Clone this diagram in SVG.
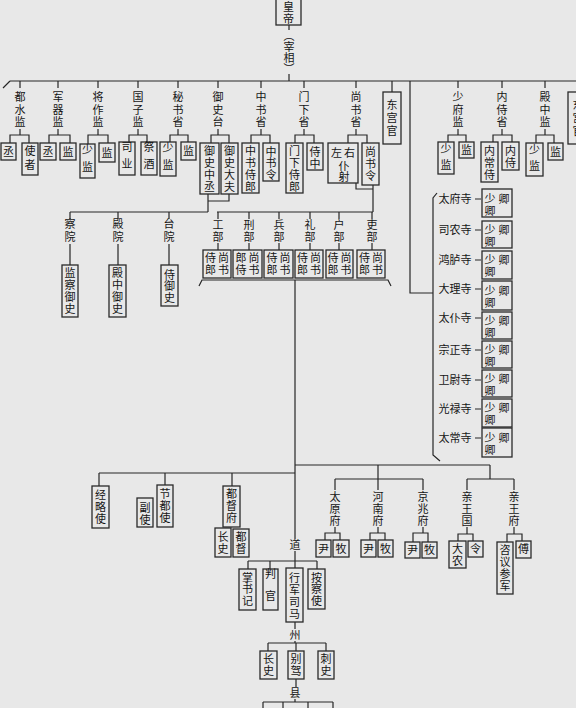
<svg xmlns="http://www.w3.org/2000/svg" width="576" height="708" viewBox="0 0 576 708">
<style>
.c path{fill:none;stroke:#262626;stroke-width:1.2}
.b{fill:none;stroke:#2a2a2a;stroke-width:1.3}
.t{font-family:"Noto Sans CJK SC","Noto Sans CJK JP",sans-serif;font-size:11px;fill:#151515;text-anchor:middle}
.v{writing-mode:vertical-rl;text-orientation:upright}
.s0{letter-spacing:0}
.s05{letter-spacing:0.5px}
.s1{letter-spacing:1px}
.s15{letter-spacing:1.5px}
.s2{letter-spacing:2px}
.s3{letter-spacing:3px}
.s5{letter-spacing:5px}
.s6{letter-spacing:6px}
.s11{letter-spacing:11px}
</style>
<rect x="0" y="0" width="576" height="708" fill="#e8e8e8"/>
<g id="connectors" class="c">
<path d="M289 25V30M289 74V81M10 81H576M10 81L3 88"/>
<path d="M20 81V88M58 81V88M98 81V88M138 81V88M178 81V88M218 81V88M261 81V88M304 81V88M356 81V88M392 81V92M458 81V88M502 81V88M545 81V88"/>
<path d="M410 81V293H433"/>
<path d="M20 129V135M10 143V135H29V143M58 129V135M49 143V135H70V143M98 129V135M88 144V135H108V143M138 129V135M129 142V135H147V142M178 129V135M170 142V135H188V142M218 129V135M211 143V135H229V143M261 129V135M251 143V135H270V143M304 129V135M295 143V135H314V143M356 129V135M348 143V135H367V143M458 129V135M448 142V135H466V142M502 129V135M493 142V135H512V142M545 129V135M536 143V135H554V143"/>
<path d="M208 194V212M229 194V201H208M70 212H208M70 212V219M118 212V219M169 212V219M70 244V265M118 244V265M169 244V265"/>
<path d="M356 183V189H373M373 185V212M217 212H373M218 212V219M249 212V219M279 212V219M310 212V219M339 212V219M372 212V219M218 243V250M249 243V250M279 243V250M310 243V250M339 243V250M372 243V250"/>
<path d="M199 286L202 280H388L391 286M295 280V539"/>
<path d="M437 193L433 198V455L440 461M475 199H481M475 230H481M475 260H481M475 289H481M475 318H481M475 350H481M475 380H481M475 409H481M475 438H481"/>
<path d="M99 473H295M295 465H490M99 473V486M165 473V485M232 473V486"/>
<path d="M378 465V479M335 479H423M335 479V490M378 479V490M423 479V490M335 527V533M325 540V533H340V540M378 527V533M370 540V533H385V540M423 527V533M413 542V533H428V542"/>
<path d="M490 465V479M467 479H514M467 479V490M514 479V490M467 527V534M458 541V534H473V541M514 527V534M507 542V534H522V541"/>
<path d="M295 551V561M248 561H317M248 561V569M270 561V569M295 561V568M317 561V569M295 622V629M295 641V643M268 643H326M268 643V651M296 643V651M326 643V651M296 679V687M295 699V702M263 702H333M263 702V708M283 702V708M308 702V708M333 702V708"/>
</g>
<g id="n-huangdi"><rect class="b" x="276" y="-2" width="25" height="27"/><text class="t v s1" x="288.5" y="13">皇帝</text></g>
<g id="n-zaixiang"><text class="t v s0" x="289" y="52">（宰相）</text></g>
<g id="n-dushuijian"><text class="t v s15" x="20" y="110.5">都水监</text></g>
<g id="n-dsj-cheng"><rect class="b" x="1" y="143" width="15" height="17"/><text class="t" x="8.5" y="156">丞</text></g>
<g id="n-dsj-shizhe"><rect class="b" x="22" y="143" width="16" height="32"/><text class="t v s3" x="30" y="159">使者</text></g>
<g id="n-junqijian"><text class="t v s15" x="58" y="110.5">军器监</text></g>
<g id="n-jqj-cheng"><rect class="b" x="40" y="143" width="16" height="17"/><text class="t" x="48" y="156">丞</text></g>
<g id="n-jqj-jian"><rect class="b" x="60" y="143" width="16" height="17"/><text class="t" x="68" y="156">监</text></g>
<g id="n-jiangzuojian"><text class="t v s15" x="98" y="110.5">将作监</text></g>
<g id="n-jzj-shaojian"><rect class="b" x="80" y="144" width="15" height="34"/><text class="t v s6" x="87.5" y="161.5">少监</text></g>
<g id="n-jzj-jian"><rect class="b" x="99" y="143" width="16" height="19"/><text class="t" x="107" y="157">监</text></g>
<g id="n-guozijian"><text class="t v s15" x="138" y="110.5">国子监</text></g>
<g id="n-gzj-siye"><rect class="b" x="119" y="142" width="16" height="33"/><text class="t v s6" x="127" y="158.5">司业</text></g>
<g id="n-gzj-jijiu"><rect class="b" x="141" y="142" width="16" height="33"/><text class="t v s6" x="149" y="158.5">祭酒</text></g>
<g id="n-mishusheng"><text class="t v s15" x="178" y="110.5">秘书省</text></g>
<g id="n-msj-shaojian"><rect class="b" x="160" y="142" width="16" height="34"/><text class="t v s6" x="168" y="159.5">少监</text></g>
<g id="n-msj-jian"><rect class="b" x="181" y="142" width="15" height="18"/><text class="t" x="188.5" y="155">监</text></g>
<g id="n-yushitai"><text class="t v s15" x="218" y="110.5">御史台</text></g>
<g id="n-yst-zhongcheng"><rect class="b" x="200" y="143" width="19" height="51"/><text class="t v s1" x="209.5" y="169.5">御史中丞</text></g>
<g id="n-yst-dafu"><rect class="b" x="221" y="143" width="17" height="51"/><text class="t v s1" x="229.5" y="169.5">御史大夫</text></g>
<g id="n-zhongshusheng"><text class="t v s15" x="261" y="110.5">中书省</text></g>
<g id="n-zss-shilang"><rect class="b" x="242" y="143" width="17" height="50"/><text class="t v s1" x="250.5" y="169.5">中书侍郎</text></g>
<g id="n-zss-ling"><rect class="b" x="263" y="143" width="16" height="38"/><text class="t v s05" x="271" y="163.5">中书令</text></g>
<g id="n-menxiasheng"><text class="t v s15" x="304" y="110.5">门下省</text></g>
<g id="n-mxs-shilang"><rect class="b" x="286" y="143" width="17" height="50"/><text class="t v s1" x="294.5" y="169.5">门下侍郎</text></g>
<g id="n-mxs-shizhong"><rect class="b" x="307" y="143" width="16" height="27"/><text class="t v s1" x="315" y="158">侍中</text></g>
<g id="n-shangshusheng"><text class="t v s15" x="356" y="110.5">尚书省</text></g>
<g id="n-sss-pushe"><rect class="b" x="328" y="143" width="30" height="40"/><text class="t s2" x="344" y="157">左右</text><text class="t v s0" x="344" y="171">仆射</text></g>
<g id="n-sss-ling"><rect class="b" x="362" y="143" width="17" height="42"/><text class="t v s1" x="370.5" y="164">尚书令</text></g>
<g id="n-donggongguan"><rect class="b" x="383" y="92" width="18" height="52"/><text class="t v s2" x="392" y="119">东宫官</text></g>
<g id="n-shaofujian"><text class="t v s15" x="458" y="110.5">少府监</text></g>
<g id="n-sfj-shaojian"><rect class="b" x="438" y="142" width="16" height="32"/><text class="t v s5" x="446" y="159">少监</text></g>
<g id="n-sfj-jian"><rect class="b" x="459" y="142" width="15" height="16"/><text class="t" x="466.5" y="154">监</text></g>
<g id="n-neishisheng"><text class="t v s15" x="502" y="110.5">内侍省</text></g>
<g id="n-nss-changshi"><rect class="b" x="481" y="142" width="17" height="40"/><text class="t v s1" x="489.5" y="163">内常侍</text></g>
<g id="n-nss-neishi"><rect class="b" x="502" y="142" width="17" height="28"/><text class="t v s1" x="510.5" y="157">内侍</text></g>
<g id="n-dianzhongjian"><text class="t v s15" x="545" y="110.5">殿中监</text></g>
<g id="n-dzj-shaojian"><rect class="b" x="526" y="143" width="17" height="33"/><text class="t v s5" x="534.5" y="160">少监</text></g>
<g id="n-dzj-jian"><rect class="b" x="548" y="143" width="15" height="17"/><text class="t" x="555.5" y="156">监</text></g>
<g id="n-donggongguan2"><rect class="b" x="568" y="92" width="22" height="52"/><text class="t v s2" x="578" y="119">东宫官</text></g>
<g id="n-chayuan"><text class="t v s2" x="70" y="231.5">察院</text></g>
<g id="n-jianchayushi"><rect class="b" x="62" y="265" width="16" height="52"/><text class="t v s1" x="70" y="291">监察御史</text></g>
<g id="n-dianyuan"><text class="t v s2" x="118" y="231.5">殿院</text></g>
<g id="n-dianzhongyushi"><rect class="b" x="109" y="265" width="17" height="52"/><text class="t v s1" x="117.5" y="291">殿中御史</text></g>
<g id="n-taiyuan"><text class="t v s2" x="169" y="231.5">台院</text></g>
<g id="n-shiyushi"><rect class="b" x="161" y="265" width="17" height="41"/><text class="t v s05" x="169.5" y="286.5">侍御史</text></g>
<g id="n-gongbu"><text class="t v s1" x="218" y="231">工部</text><rect class="b" x="203" y="250" width="28" height="28"/><text class="t v s1" x="210.5" y="264">侍郎</text><text class="t v s1" x="223.5" y="264">尚书</text></g>
<g id="n-xingbu"><text class="t v s1" x="249" y="231">刑部</text><rect class="b" x="233" y="250" width="29" height="28"/><text class="t v s1" x="241" y="264">郎侍</text><text class="t v s1" x="254" y="264">尚书</text></g>
<g id="n-bingbu"><text class="t v s1" x="279" y="231">兵部</text><rect class="b" x="264" y="250" width="29" height="28"/><text class="t v s1" x="272" y="264">侍郎</text><text class="t v s1" x="285" y="264">尚书</text></g>
<g id="n-libu"><text class="t v s1" x="310" y="231">礼部</text><rect class="b" x="295" y="250" width="28" height="28"/><text class="t v s1" x="302.5" y="264">侍郎</text><text class="t v s1" x="315.5" y="264">尚书</text></g>
<g id="n-hubu"><text class="t v s1" x="339" y="231">户部</text><rect class="b" x="326" y="250" width="27" height="28"/><text class="t v s1" x="333" y="264">侍郎</text><text class="t v s1" x="346" y="264">尚书</text></g>
<g id="n-libu2"><text class="t v s1" x="372" y="231">吏部</text><rect class="b" x="357" y="250" width="28" height="28"/><text class="t v s1" x="364.5" y="264">侍郎</text><text class="t v s1" x="377.5" y="264">尚书</text></g>
<g id="n-taifusi"><text class="t" x="455" y="203">太府寺</text><rect class="b" x="482" y="189" width="30" height="28"/><text class="t v s1" x="490" y="205">少卿</text><text class="t" x="504" y="203">卿</text></g>
<g id="n-sinongsi"><text class="t" x="455" y="234">司农寺</text><rect class="b" x="482" y="221" width="30" height="27"/><text class="t v s1" x="490" y="236">少卿</text><text class="t" x="504" y="234">卿</text></g>
<g id="n-honglusi"><text class="t" x="455" y="264">鸿胪寺</text><rect class="b" x="482" y="251" width="30" height="28"/><text class="t v s1" x="490" y="266">少卿</text><text class="t" x="504" y="264">卿</text></g>
<g id="n-dalisi"><text class="t" x="455" y="293">大理寺</text><rect class="b" x="482" y="281" width="30" height="29"/><text class="t v s1" x="490" y="297">少卿</text><text class="t" x="504" y="295">卿</text></g>
<g id="n-taipusi"><text class="t" x="455" y="322">太仆寺</text><rect class="b" x="482" y="312" width="30" height="27"/><text class="t v s1" x="490" y="327">少卿</text><text class="t" x="504" y="325">卿</text></g>
<g id="n-zongzhengsi"><text class="t" x="455" y="354">宗正寺</text><rect class="b" x="482" y="341" width="30" height="27"/><text class="t v s1" x="490" y="356">少卿</text><text class="t" x="504" y="354">卿</text></g>
<g id="n-weiweisi"><text class="t" x="455" y="384">卫尉寺</text><rect class="b" x="482" y="370" width="30" height="27"/><text class="t v s1" x="490" y="385">少卿</text><text class="t" x="504" y="383">卿</text></g>
<g id="n-guanglusi"><text class="t" x="455" y="413">光禄寺</text><rect class="b" x="482" y="399" width="30" height="28"/><text class="t v s1" x="490" y="414">少卿</text><text class="t" x="504" y="412">卿</text></g>
<g id="n-taichangsi"><text class="t" x="455" y="442">太常寺</text><rect class="b" x="482" y="428" width="30" height="29"/><text class="t v s1" x="490" y="444">少卿</text><text class="t" x="504" y="442">卿</text></g>
<g id="n-jinglueshi"><rect class="b" x="92" y="486" width="17" height="42"/><text class="t v s1" x="100.5" y="507">经略使</text></g>
<g id="n-fushi"><rect class="b" x="137" y="498" width="16" height="29"/><text class="t v s1" x="145" y="514">副使</text></g>
<g id="n-jiedushi"><rect class="b" x="157" y="485" width="16" height="42"/><text class="t v s1" x="165" y="506">节都使</text></g>
<g id="n-dudufu"><rect class="b" x="223" y="486" width="17" height="41"/><text class="t v s1" x="231.5" y="506">都督府</text></g>
<g id="n-ddf-zhangshi"><rect class="b" x="215" y="528" width="16" height="29"/><text class="t v s1" x="223" y="543">长史</text></g>
<g id="n-ddf-dudu"><rect class="b" x="233" y="529" width="16" height="28"/><text class="t v s1" x="241" y="543">都督</text></g>
<g id="n-taiyuanfu"><text class="t v s1" x="335" y="509">太原府</text></g>
<g id="n-tyf-yin"><rect class="b" x="316" y="540" width="15" height="17"/><text class="t" x="323.5" y="553">尹</text></g>
<g id="n-tyf-mu"><rect class="b" x="333" y="540" width="16" height="17"/><text class="t" x="341" y="553">牧</text></g>
<g id="n-henanfu"><text class="t v s1" x="378" y="509">河南府</text></g>
<g id="n-hnf-yin"><rect class="b" x="361" y="540" width="15" height="17"/><text class="t" x="368.5" y="553">尹</text></g>
<g id="n-hnf-mu"><rect class="b" x="378" y="540" width="15" height="17"/><text class="t" x="385.5" y="553">牧</text></g>
<g id="n-jingzhaofu"><text class="t v s1" x="423" y="509">京兆府</text></g>
<g id="n-jzf-yin"><rect class="b" x="405" y="542" width="15" height="16"/><text class="t" x="412.5" y="554">尹</text></g>
<g id="n-jzf-mu"><rect class="b" x="422" y="542" width="15" height="16"/><text class="t" x="429.5" y="554">牧</text></g>
<g id="n-qinwangguo"><text class="t v s1" x="467" y="509">亲王国</text></g>
<g id="n-qwg-danong"><rect class="b" x="449" y="541" width="17" height="27"/><text class="t v s1" x="457.5" y="555">大农</text></g>
<g id="n-qwg-ling"><rect class="b" x="468" y="541" width="15" height="16"/><text class="t" x="475.5" y="553">令</text></g>
<g id="n-qinwangfu"><text class="t v s1" x="514" y="509">亲王府</text></g>
<g id="n-qwf-ziyi"><rect class="b" x="497" y="542" width="16" height="52"/><text class="t v s1" x="505" y="568">咨议参军</text></g>
<g id="n-qwf-fu"><rect class="b" x="516" y="541" width="15" height="17"/><text class="t" x="523.5" y="553">傅</text></g>
<g id="n-dao"><text class="t" x="295" y="549">道</text></g>
<g id="n-zhangshuji"><rect class="b" x="239" y="569" width="17" height="41"/><text class="t v s05" x="247.5" y="589.5">掌书记</text></g>
<g id="n-panguan"><rect class="b" x="263" y="569" width="15" height="41"/><text class="t v s11" x="270.5" y="590">判官</text></g>
<g id="n-xingjunsima"><rect class="b" x="286" y="568" width="17" height="54"/><text class="t v s1" x="294.5" y="596">行军司马</text></g>
<g id="n-anchashi"><rect class="b" x="308" y="569" width="17" height="40"/><text class="t v s05" x="316.5" y="589.5">按察使</text></g>
<g id="n-zhou"><text class="t" x="295" y="639">州</text></g>
<g id="n-zhou-zhangshi"><rect class="b" x="260" y="651" width="17" height="28"/><text class="t v s1" x="268.5" y="665">长史</text></g>
<g id="n-zhou-biejia"><rect class="b" x="288" y="651" width="16" height="28"/><text class="t v s1" x="296" y="665">别驾</text></g>
<g id="n-zhou-cishi"><rect class="b" x="318" y="651" width="16" height="28"/><text class="t v s1" x="326" y="665">刺史</text></g>
<g id="n-xian"><text class="t" x="295" y="697">县</text></g>
</svg>
